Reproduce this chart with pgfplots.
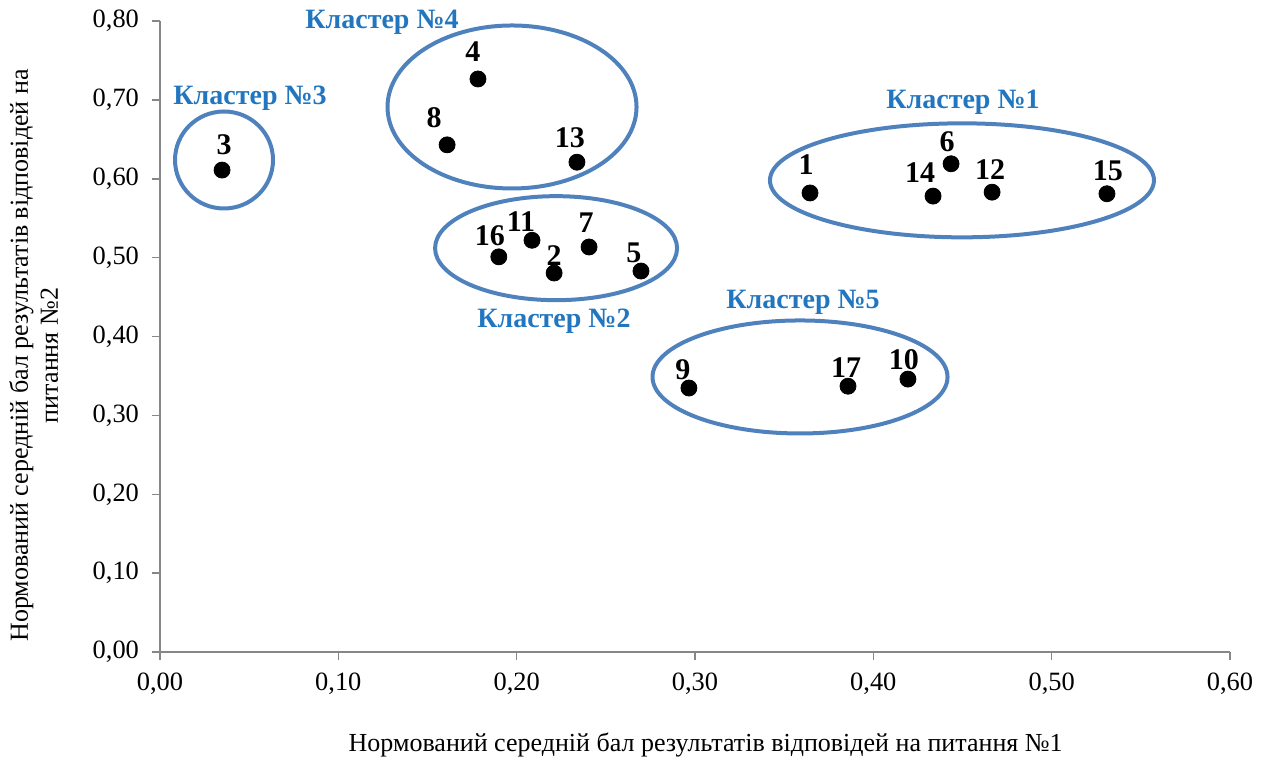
\documentclass[border=0pt]{standalone}
\usepackage{pgfplots}
\pgfplotsset{compat=1.18}
\usepackage{pgfplotstable}
\usepackage{fontspec}
\setmainfont{Liberation Serif}
\definecolor{ellblue}{HTML}{4F81BD}
\definecolor{labblue}{HTML}{2176BF}
\definecolor{axgray}{HTML}{878787}
\pgfplotstableread{
x y lab dx dy
0.0348 0.611 3 1 12.5
0.1783 0.7265 4 -2.5 13.5
0.161 0.643 8 -6.5 13.5
0.2338 0.621 13 -3.5 12
0.3645 0.582 1 -2 14
0.4436 0.619 6 -2 11
0.4335 0.578 14 -6.5 12
0.4666 0.583 12 -1 11.5
0.531 0.581 15 0.5 11.5
0.190 0.501 16 -4.5 10.5
0.2086 0.522 11 -5.5 9.5
0.221 0.4805 2 0 8.5
0.2406 0.5135 7 -1.5 12
0.2697 0.483 5 -3.5 9
0.2966 0.3347 9 -3 9
0.3858 0.337 17 -1 9.5
0.4194 0.346 10 -2 9.5
}\pts
\begin{document}
\begin{tikzpicture}
\begin{axis}[
  scale only axis, width=535pt, height=315.5pt,
  at={(0,0)}, anchor=south west,
  xmin=0, xmax=0.6, ymin=0, ymax=0.8,
  xtick distance=0.1, ytick distance=0.1,
  axis lines=left, axis line style={-, draw=axgray, line width=0.75pt},
  tick style={draw=axgray, line width=0.75pt},
  tick align=outside, major tick length=4pt,
  clip=false,
  /pgf/number format/.cd, use comma, fixed, fixed zerofill, precision=2, assume math mode=true,
  /pgfplots/.cd,
  ticklabel style={font=\fontsize{13.2}{15}\selectfont},
  xticklabel style={yshift=-3pt},
  yticklabel style={xshift=-3pt},
  xlabel={Нормований середній бал результатів відповідей на питання №1},
  xlabel style={font=\fontsize{13}{15}\selectfont, at={(axis description cs:0.51,-0.147)}, anchor=center},
  ylabel={Нормований середній бал результатів відповідей на\\питання №2},
  ylabel style={font=\fontsize{13}{15}\selectfont, align=center, at={(axis description cs:-0.118,0.47)}, anchor=center, rotate=0},
]
\addplot[only marks, mark=*, mark size=4pt, black,
  point meta=explicit symbolic,
  visualization depends on={\thisrow{dx}\as\dx},
  visualization depends on={\thisrow{dy}\as\dy},
  nodes near coords,
  nodes near coords style={font=\fontsize{15}{17}\selectfont\bfseries, anchor=center, xshift=\dx pt, yshift=\dy pt, text=black}
] table[x=x, y=y, meta=lab] {\pts};
\draw[ellblue, line width=2pt] (axis cs:0.4497,0.598) ellipse [x radius=96pt, y radius=28.5pt];
\draw[ellblue, line width=2pt] (axis cs:0.1974,0.691) ellipse [x radius=62.25pt, y radius=40.75pt];
\draw[ellblue, line width=2pt] (axis cs:0.0359,0.6238) ellipse [x radius=24.5pt, y radius=24.25pt];
\draw[ellblue, line width=2pt] (axis cs:0.2221,0.512) ellipse [x radius=60.5pt, y radius=26pt];
\draw[ellblue, line width=2pt] (axis cs:0.3589,0.3487) ellipse [x radius=73.75pt, y radius=28.25pt];
\node[labblue, font=\fontsize{14}{16}\selectfont\bfseries] at (axis cs:0.0505,0.7024) {Кластер №3};
\node[labblue, font=\fontsize{14}{16}\selectfont\bfseries] at (axis cs:0.1245,0.7987) {Кластер №4};
\node[labblue, font=\fontsize{14}{16}\selectfont\bfseries] at (axis cs:0.4503,0.6973) {Кластер №1};
\node[labblue, font=\fontsize{14}{16}\selectfont\bfseries] at (axis cs:0.2209,0.4197) {Кластер №2};
\node[labblue, font=\fontsize{14}{16}\selectfont\bfseries] at (axis cs:0.3606,0.4437) {Кластер №5};
\end{axis}
\pgfresetboundingbox
\path (-80pt,-54pt) rectangle (552.5pt,326pt);
\end{tikzpicture}
\end{document}
